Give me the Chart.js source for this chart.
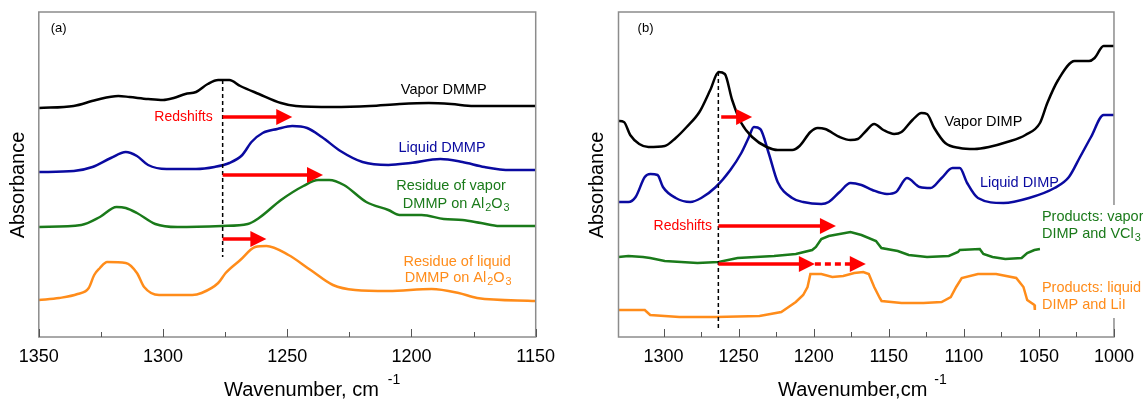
<!DOCTYPE html>
<html>
<head>
<meta charset="utf-8">
<script src="https://cdn.jsdelivr.net/npm/chart.js@4.4.1/dist/chart.umd.min.js"></script>
<style>
    html, body { margin: 0; padding: 0; background: #fff; }
    #wrap { position: relative; width: 1143px; height: 402px; overflow: hidden; }
    #chartA { position: absolute; left: 0; top: 0; }
    #chartB { position: absolute; left: 570px; top: 0; }
</style>
</head>
<body>
<div id="wrap">
    <canvas id="chartA" width="570" height="402"></canvas>
    <canvas id="chartB" width="573" height="402"></canvas>
</div>
<script>
// Panel (a): DMMP spectra (wavenumber in cm-1, absorbance offset, arbitrary units)
const wnVaporDMMP = [1350, 1336, 1327, 1318, 1313.5, 1306, 1300, 1295.7, 1291, 1286.7, 1282, 1277.8, 1273.3, 1268.9, 1261.4, 1252.5, 1246.5, 1231.6, 1216.7, 1204.8, 1193, 1184, 1175, 1150];
const absVaporDMMP = [2.29, 2.31, 2.37, 2.41, 2.40, 2.38, 2.37, 2.39, 2.43, 2.45, 2.53, 2.57, 2.57, 2.51, 2.43, 2.34, 2.31, 2.30, 2.31, 2.33, 2.34, 2.33, 2.31, 2.31];

const wnLiquidDMMP = [1350, 1335.9, 1328.4, 1321, 1315, 1310.5, 1306, 1298.6, 1286.7, 1279.3, 1273.3, 1268.1, 1264.4, 1259.9, 1254, 1248, 1242, 1236.1, 1228.6, 1219.7, 1209.3, 1200.4, 1188.4, 1179.5, 1170.6, 1160.2, 1150];
const absLiquidDMMP = [1.65, 1.66, 1.70, 1.79, 1.85, 1.81, 1.72, 1.68, 1.68, 1.70, 1.74, 1.82, 1.95, 2.04, 2.08, 2.11, 2.09, 2.00, 1.86, 1.75, 1.72, 1.74, 1.78, 1.75, 1.70, 1.67, 1.67];

const wnResVapor = [1350, 1332.9, 1325.4, 1318.7, 1315, 1310.5, 1303.1, 1294.2, 1276.3, 1265.9, 1261.4, 1252.5, 1243.5, 1237.6, 1233.1, 1227.2, 1218.2, 1209.3, 1204.8, 1195.9, 1187, 1179.5, 1172, 1164.6, 1150];
const absResVapor = [1.10, 1.12, 1.20, 1.30, 1.29, 1.24, 1.13, 1.10, 1.11, 1.13, 1.19, 1.37, 1.51, 1.57, 1.57, 1.52, 1.35, 1.27, 1.22, 1.22, 1.18, 1.17, 1.14, 1.11, 1.11];

const wnResLiquid = [1350, 1341.8, 1334.4, 1329.9, 1327.7, 1325.4, 1322.5, 1315, 1310.5, 1307.6, 1301.6, 1288.2, 1284.5, 1277.8, 1274.8, 1268.9, 1262.9, 1258.4, 1249.5, 1240.6, 1231.6, 1222.7, 1209.3, 1191.9, 1181, 1173.6, 1150];
const absResLiquid = [0.37, 0.39, 0.43, 0.49, 0.62, 0.69, 0.75, 0.74, 0.64, 0.50, 0.42, 0.42, 0.44, 0.54, 0.64, 0.77, 0.90, 0.91, 0.82, 0.67, 0.52, 0.47, 0.46, 0.48, 0.44, 0.39, 0.36];

// Panel (b): DIMP spectra
const wnVaporDIMP = [1330, 1326.4, 1322.2, 1316.2, 1310.1, 1299.2, 1291.9, 1284.6, 1276.1, 1268.9, 1263.3, 1259.2, 1254.3, 1248.2, 1241, 1231.3, 1224, 1214.3, 1209.4, 1202.2, 1197.3, 1192.4, 1182.7, 1175.5, 1170.6, 1165.8, 1159.7, 1153.6, 1146.4, 1141.5, 1134.2, 1128.2, 1124.5, 1119.7, 1112.4, 1102.7, 1093, 1083.3, 1071.2, 1059, 1049.3, 1044.4, 1037.2, 1026.2, 1016.6, 1012.9, 1006.9, 1000];
const absVaporDIMP = [2.16, 2.15, 2.02, 1.93, 1.90, 1.91, 1.99, 2.10, 2.25, 2.47, 2.65, 2.63, 2.37, 2.14, 2.00, 1.90, 1.87, 1.87, 1.91, 2.05, 2.09, 2.08, 2.00, 1.97, 1.98, 2.05, 2.13, 2.07, 2.03, 2.05, 2.17, 2.24, 2.23, 2.09, 1.94, 1.89, 1.88, 1.90, 1.95, 2.02, 2.14, 2.34, 2.57, 2.76, 2.76, 2.79, 2.91, 2.91];

const wnLiquidDIMP = [1330, 1323.4, 1318.6, 1312.5, 1308.8, 1304, 1300.4, 1291.9, 1282.2, 1274.9, 1265.2, 1255.5, 1248.2, 1243.4, 1239.8, 1235.6, 1230, 1224, 1214.3, 1207, 1194.9, 1190, 1182.7, 1175.5, 1168.2, 1160.9, 1151.2, 1145.1, 1137.9, 1129.4, 1122.1, 1114.8, 1107.5, 1102.7, 1097.8, 1090.6, 1073.6, 1056.6, 1039.6, 1030, 1022.6, 1015.3, 1006.9, 1000];
const absLiquidDIMP = [1.35, 1.35, 1.40, 1.60, 1.63, 1.62, 1.50, 1.39, 1.35, 1.39, 1.50, 1.67, 1.84, 1.99, 2.10, 2.08, 1.84, 1.55, 1.39, 1.35, 1.33, 1.35, 1.45, 1.54, 1.52, 1.47, 1.43, 1.45, 1.59, 1.50, 1.49, 1.59, 1.69, 1.69, 1.54, 1.39, 1.34, 1.39, 1.49, 1.60, 1.80, 2.00, 2.22, 2.22];

const wnProdVapor = [1330, 1323.4, 1313.7, 1308.9, 1299.2, 1277.4, 1263.3, 1250.7, 1226.4, 1211.9, 1201, 1198.5, 1194.9, 1190, 1175.5, 1168.2, 1158.5, 1154.9, 1144, 1136.7, 1124.5, 1110, 1103.9, 1102.7, 1089.4, 1087, 1080.9, 1072.4, 1061.5, 1057.8, 1053, 1049.3];
const absProdVapor = [0.80, 0.81, 0.80, 0.79, 0.76, 0.74, 0.75, 0.79, 0.81, 0.83, 0.87, 0.90, 0.98, 1.01, 1.05, 1.02, 0.96, 0.89, 0.86, 0.82, 0.80, 0.81, 0.85, 0.87, 0.88, 0.83, 0.80, 0.78, 0.79, 0.84, 0.87, 0.88];

const wnProdLiquid = [1330, 1312.5, 1308.9, 1289.5, 1265.2, 1236.1, 1228.8, 1221.6, 1216.7, 1211.9, 1207, 1204.1, 1202.2, 1194.9, 1187.6, 1180.3, 1173, 1167, 1163.3, 1159.7, 1156, 1154.8, 1141.5, 1126.9, 1114.8, 1108.7, 1105.1, 1101.4, 1090.6, 1078.5, 1065.1, 1060.3, 1057.8, 1053, 1052.7];
const absProdLiquid = [0.27, 0.27, 0.22, 0.20, 0.20, 0.21, 0.23, 0.25, 0.30, 0.35, 0.42, 0.50, 0.63, 0.63, 0.60, 0.61, 0.64, 0.65, 0.63, 0.50, 0.39, 0.36, 0.34, 0.34, 0.35, 0.40, 0.50, 0.59, 0.63, 0.63, 0.59, 0.50, 0.37, 0.32, 0.27];

// Redshift arrows (wavenumber from -> to, at absorbance level)
const arrowsA = [
    { from: 1276, to: 1248, y: 2.20 },
    { from: 1276, to: 1235.6, y: 1.62 },
    { from: 1276, to: 1258.4, y: 0.98 }
];
const arrowsB = [
    { from: 1261.6, to: 1241, y: 2.20 },
    { from: 1263.5, to: 1185.2, y: 1.11 },
    { from: 1263.5, to: 1199.2, y: 0.73 },
    { from: 1199.2, to: 1165.3, y: 0.73, dashed: true }
];

const FONT = "'Liberation Sans', Arial, sans-serif";
const RED = '#ff0000';

const pts = (xs, ys) => xs.map((x, i) => ({ x, y: ys[i] }));

const lineSet = (label, xs, ys, color, smooth) => ({
    label,
    data: pts(xs, ys),
    borderColor: color,
    borderWidth: 2.5,
    pointRadius: 0,
    fill: false,
    cubicInterpolationMode: smooth ? 'monotone' : 'default',
    tension: 0
});

// draws "Al_2O_3" style text, '_' marks one subscript char
function richText(ctx, str, x, y, size, align) {
    const parts = [];
    for (let i = 0; i < str.length; i++) {
        if (str[i] === '_') { parts.push({ t: str[i + 1], sub: true }); i++; }
        else if (parts.length && !parts[parts.length - 1].sub) parts[parts.length - 1].t += str[i];
        else parts.push({ t: str[i], sub: false });
    }
    const subSize = size * 0.75;
    let total = 0;
    parts.forEach(p => {
        ctx.font = `${p.sub ? subSize : size}px ${FONT}`;
        p.w = ctx.measureText(p.t).width + (p.sub ? 1 : 0);
        total += p.w;
    });
    let cx = x - total / 2;
    if (align === 'left') cx = x;
    if (align === 'right') cx = x - total;
    ctx.textAlign = 'left';
    ctx.textBaseline = 'middle';
    parts.forEach(p => {
        ctx.font = `${p.sub ? subSize : size}px ${FONT}`;
        ctx.fillText(p.t, cx + (p.sub ? 1 : 0), p.sub ? y + 4 : y);
        cx += p.w;
    });
}

function drawArrow(ctx, x0, x1, y, dashed) {
    const head = 16;
    ctx.save();
    ctx.strokeStyle = RED;
    ctx.fillStyle = RED;
    ctx.lineWidth = 3.5;
    if (dashed) ctx.setLineDash([6, 4]);
    ctx.beginPath();
    ctx.moveTo(x0, y);
    ctx.lineTo(x1 - head + 1, y);
    ctx.stroke();
    ctx.setLineDash([]);
    ctx.beginPath();
    ctx.moveTo(x1 - head, y - 8);
    ctx.lineTo(x1, y);
    ctx.lineTo(x1 - head, y + 8);
    ctx.closePath();
    ctx.fill();
    ctx.restore();
}

// Annotations: frame, inward ticks, dashed line, arrows, text
const overlay = {
    id: 'overlay',
    afterDraw(chart, args, o) {
        const { ctx, chartArea: a, scales: { x, y } } = chart;
        ctx.save();

        // frame
        ctx.strokeStyle = '#8c8c8c';
        ctx.lineWidth = 1.5;
        ctx.strokeRect(a.left, a.top, a.right - a.left, a.bottom - a.top);

        // inward tick marks
        ctx.strokeStyle = '#555';
        ctx.lineWidth = 1;
        x.ticks.forEach(t => {
            if (t.value % 25 !== 0) return;
            const px = Math.round(x.getPixelForValue(t.value)) + 0.5;
            const len = t.value % 50 === 0 ? 8 : 5;
            ctx.beginPath();
            ctx.moveTo(px, a.bottom);
            ctx.lineTo(px, a.bottom - len);
            ctx.stroke();
        });

        // dashed reference line
        const dx = x.getPixelForValue(o.dash.x);
        ctx.strokeStyle = '#000';
        ctx.lineWidth = 1.5;
        ctx.setLineDash([4, 3]);
        ctx.beginPath();
        ctx.moveTo(dx, y.getPixelForValue(o.dash.top));
        ctx.lineTo(dx, y.getPixelForValue(o.dash.bottom));
        ctx.stroke();
        ctx.setLineDash([]);

        o.arrows.forEach(ar => {
            drawArrow(ctx, x.getPixelForValue(ar.from), x.getPixelForValue(ar.to), y.getPixelForValue(ar.y), ar.dashed);
        });

        // white box behind right-hand labels
        if (o.mask) {
            ctx.fillStyle = '#fff';
            const mx = x.getPixelForValue(o.mask.x);
            ctx.fillRect(mx, y.getPixelForValue(o.mask.top), chart.width - mx, y.getPixelForValue(o.mask.bottom) - y.getPixelForValue(o.mask.top));
        }

        o.labels.forEach(l => {
            ctx.fillStyle = l.color;
            richText(ctx, l.text, x.getPixelForValue(l.x), y.getPixelForValue(l.y), l.size || 14.5, l.align || 'center');
        });

        // axis titles
        ctx.fillStyle = '#000';
        ctx.font = `20px ${FONT}`;
        ctx.textAlign = 'left';
        ctx.textBaseline = 'middle';
        ctx.fillText(o.xTitle, o.xTitleX, 390);
        const tw = ctx.measureText(o.xTitle).width;
        ctx.font = `14px ${FONT}`;
        ctx.fillText('-1', o.xTitleX + tw + o.supGap, 380);

        ctx.save();
        ctx.translate(o.yTitleX, 185);
        ctx.rotate(-Math.PI / 2);
        ctx.font = `20px ${FONT}`;
        ctx.textAlign = 'center';
        ctx.fillText('Absorbance', 0, 0);
        ctx.restore();

        ctx.restore();
    }
};

function makeChart(id, datasets, xMin, xMax, padding, ov) {
    return new Chart(document.getElementById(id), {
        type: 'line',
        data: { datasets },
        options: {
            responsive: false,
            animation: false,
            layout: { padding },
            plugins: { legend: { display: false }, tooltip: { enabled: false }, overlay: ov },
            scales: {
                x: {
                    type: 'linear',
                    reverse: true,
                    min: xMin,
                    max: xMax,
                    grid: { display: false, drawTicks: false },
                    border: { display: false },
                    afterFit: (s) => { s.height = 65; },
                    ticks: {
                        stepSize: 25,
                        autoSkip: false,
                        maxRotation: 0,
                        padding: 9,
                        color: '#000',
                        font: { size: 18, family: FONT },
                        callback: (v) => (v % 50 === 0 ? String(v) : '')
                    }
                },
                y: { type: 'linear', display: false, min: 0, max: 3.25 }
            }
        },
        plugins: [overlay]
    });
}

makeChart('chartA', [
    lineSet('Vapor DMMP', wnVaporDMMP, absVaporDMMP, '#000000', true),
    lineSet('Liquid DMMP', wnLiquidDMMP, absLiquidDMMP, '#0a0aa0', true),
    lineSet('Residue of vapor DMMP', wnResVapor, absResVapor, '#1a7a1a', true),
    lineSet('Residue of liquid DMMP', wnResLiquid, absResLiquid, '#ff8c1a', true)
], 1150, 1350, { left: 38.8, right: 34.3, top: 12, bottom: 0 }, {
    dash: { x: 1276, top: 2.57, bottom: 0.80 },
    arrows: arrowsA,
    labels: [
        { text: '(a)', x: 1342, y: 3.09, color: '#000', size: 13 },
        { text: 'Redshifts', x: 1280, y: 2.20, color: RED, size: 14, align: 'right' },
        { text: 'Vapor DMMP', x: 1187, y: 2.47, color: '#000' },
        { text: 'Liquid DMMP', x: 1187.7, y: 1.89, color: '#0a0aa0' },
        { text: 'Residue of vapor', x: 1184.1, y: 1.51, color: '#1a7a1a' },
        { text: 'DMMP on Al_2O_3', x: 1182, y: 1.33, color: '#1a7a1a' },
        { text: 'Residue of liquid', x: 1181.6, y: 0.75, color: '#ff8c1a' },
        { text: 'DMMP on Al_2O_3', x: 1181.2, y: 0.59, color: '#ff8c1a' }
    ],
    xTitle: 'Wavenumber, cm',
    xTitleX: 224,
    supGap: 9,
    yTitleX: 18
});

makeChart('chartB', [
    lineSet('Vapor DIMP', wnVaporDIMP, absVaporDIMP, '#000000', true),
    lineSet('Liquid DIMP', wnLiquidDIMP, absLiquidDIMP, '#0a0aa0', true),
    lineSet('Products: vapor DIMP and VCl3', wnProdVapor, absProdVapor, '#1a7a1a', false),
    lineSet('Products: liquid DIMP and LiI', wnProdLiquid, absProdLiquid, '#ff8c1a', false)
], 1000, 1330, { left: 48.5, right: 27.3, top: 12, bottom: 0 }, {
    dash: { x: 1263.5, top: 2.65, bottom: 0.09 },
    arrows: arrowsB,
    mask: { x: 1049, top: 1.32, bottom: 0.19 },
    labels: [
        { text: '(b)', x: 1312, y: 3.09, color: '#000', size: 13 },
        { text: 'Redshifts', x: 1267.8, y: 1.11, color: RED, size: 14, align: 'right' },
        { text: 'Vapor DIMP', x: 1087, y: 2.15, color: '#000' },
        { text: 'Liquid DIMP', x: 1063, y: 1.54, color: '#0a0aa0' },
        { text: 'Products: vapor', x: 1048, y: 1.20, color: '#1a7a1a', align: 'left' },
        { text: 'DIMP and VCl_3', x: 1048, y: 1.03, color: '#1a7a1a', align: 'left' },
        { text: 'Products: liquid', x: 1048, y: 0.49, color: '#ff8c1a', align: 'left' },
        { text: 'DIMP and LiI', x: 1048, y: 0.32, color: '#ff8c1a', align: 'left' }
    ],
    xTitle: 'Wavenumber,cm',
    xTitleX: 208,
    supGap: 7,
    yTitleX: 27
});
</script>
</body>
</html>
